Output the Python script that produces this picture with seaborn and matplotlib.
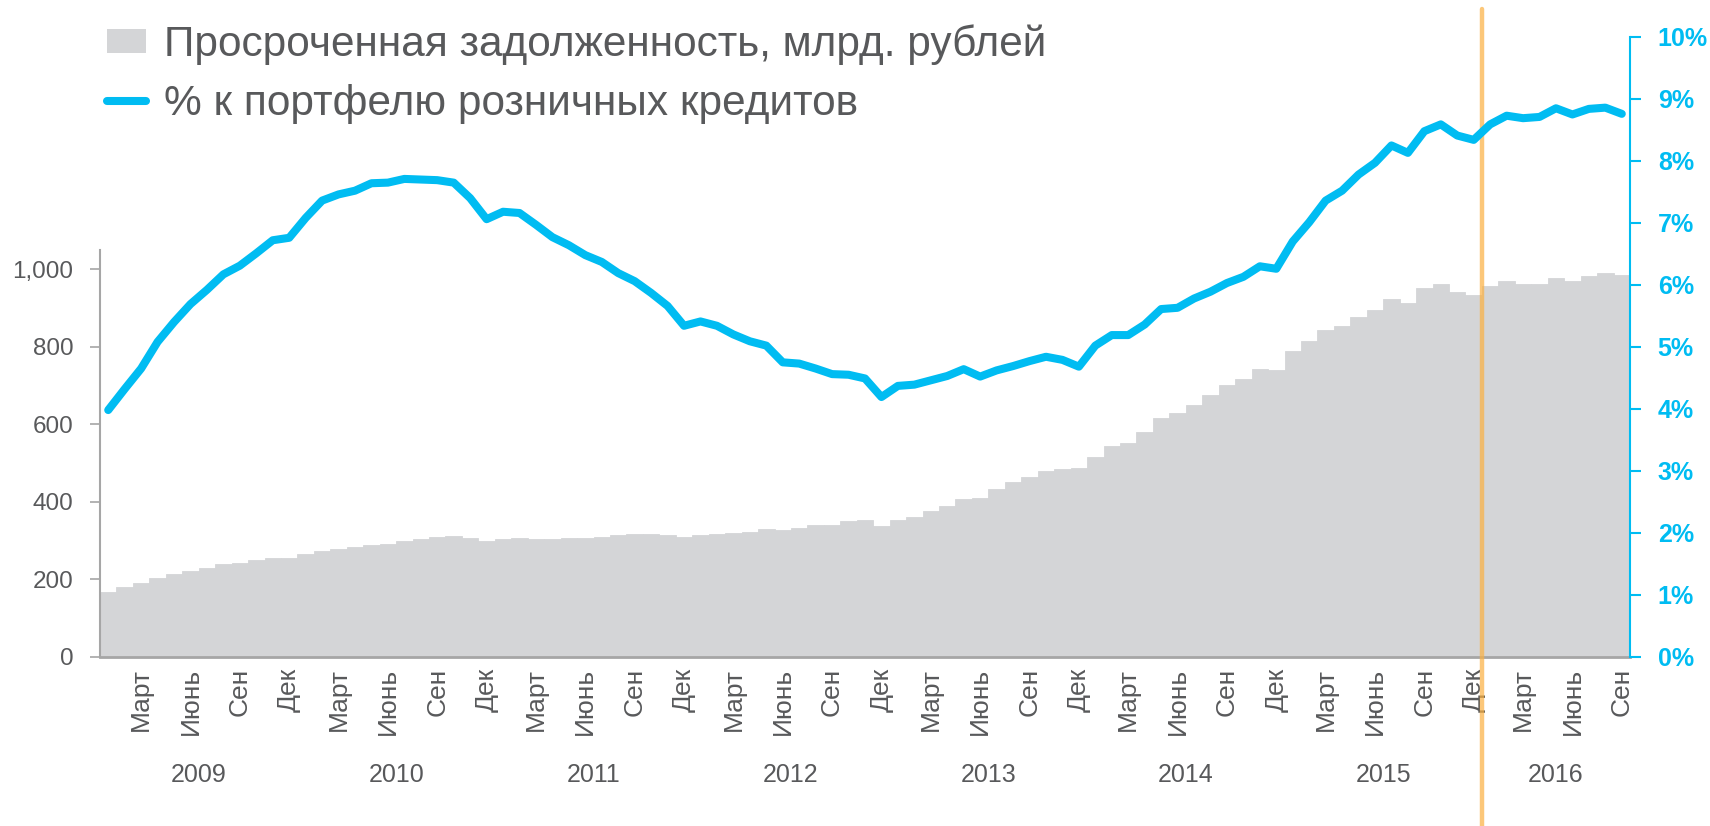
import numpy as np
import pandas as pd
import seaborn as sns
import matplotlib
matplotlib.use("Agg")
import matplotlib.pyplot as plt
import matplotlib.font_manager as fm
import matplotlib.transforms as mtransforms
from matplotlib.patches import Patch
from matplotlib.lines import Line2D
from matplotlib.ticker import FuncFormatter

# monthly data, Jan 2009 .. Sep 2016
overdue = [168, 181, 189, 204, 213, 221, 230, 239, 243, 249, 256, 255,
           265, 273, 278, 282, 288, 292, 299, 304, 308, 312, 306, 298,
           304, 306, 304, 304, 307, 306, 310, 314, 318, 316, 314, 309,
           313, 316, 319, 323, 330, 326, 333, 340, 341, 350, 354, 338,
           354, 361, 375, 390, 408, 409, 432, 450, 464, 479, 485, 486,
           516, 545, 553, 580, 616, 629, 651, 675, 701, 717, 744, 741,
           789, 815, 844, 855, 877, 895, 924, 912, 952, 962, 941, 934,
           956, 970, 961, 961, 978, 969, 984, 991, 985]
share = [3.98, 4.32, 4.65, 5.08, 5.40, 5.69, 5.92, 6.17, 6.31, 6.51, 6.72, 6.76,
         7.08, 7.36, 7.46, 7.52, 7.64, 7.65, 7.71, 7.70, 7.69, 7.65, 7.40, 7.06,
         7.18, 7.16, 6.97, 6.77, 6.64, 6.48, 6.37, 6.19, 6.06, 5.87, 5.66, 5.34,
         5.41, 5.34, 5.20, 5.09, 5.02, 4.75, 4.73, 4.65, 4.56, 4.55, 4.49, 4.19,
         4.37, 4.39, 4.46, 4.53, 4.64, 4.52, 4.62, 4.69, 4.77, 4.84, 4.79, 4.68,
         5.02, 5.19, 5.19, 5.36, 5.61, 5.63, 5.78, 5.89, 6.03, 6.13, 6.30, 6.26,
         6.70, 7.01, 7.36, 7.52, 7.78, 7.97, 8.25, 8.13, 8.48, 8.59, 8.41, 8.34,
         8.59, 8.73, 8.69, 8.71, 8.85, 8.75, 8.84, 8.86, 8.76]
years = ["2009", "2010", "2011", "2012", "2013", "2014", "2015", "2016"]
month_labels = {2: "Март", 5: "Июнь", 8: "Сен", 11: "Дек"}
bar_label = "Просроченная задолженность, млрд. рублей"
line_label = "% к портфелю розничных кредитов"

df = pd.DataFrame({"month": np.arange(len(overdue)), "overdue": overdue, "share": share})
n = len(df)

sns.set_style("white")
try:
    fm.findfont("Liberation Sans Narrow", fallback_to_default=False)
    narrow, leg_size = "Liberation Sans Narrow", 33
except ValueError:
    narrow, leg_size = "Liberation Sans", 30.5
plt.rcParams["font.family"] = ["Liberation Sans", "DejaVu Sans"]

gray_txt = "#58595b"
bar_col = "#d4d5d7"
cyan = "#00bcf2"
axis_col = "#a6a6a6"

fig = plt.figure(figsize=(17.1, 8.26), dpi=100)
ax = fig.add_axes([100 / 1710, 1 - 656.7 / 826, 1530 / 1710, 619.7 / 826])

sns.barplot(data=df, x="month", y="overdue", color=bar_col, saturation=1,
            width=1, edgecolor=bar_col, linewidth=0.6, ax=ax, zorder=1)
ax.set_ylim(0, 1600)
ax.set_xlim(-0.5, n - 0.5)
ax.set_xlabel("")
ax.set_ylabel("")

ax2 = ax.twinx()
sns.lineplot(data=df, x="month", y="share", ax=ax2, color=cyan, lw=5.8,
             solid_capstyle="round", solid_joinstyle="round")
ax2.set_ylim(0, 10)
ax2.set_xlim(-0.5, n - 0.5)
ax2.set_xlabel("")
ax2.set_ylabel("")

# month ticks
pos = [i for i in range(n) if i % 12 in month_labels]
ax.set_xticks(pos)
ax.set_xticklabels([month_labels[i % 12] for i in pos], rotation=90,
                   fontsize=19, color=gray_txt)
ax.tick_params(axis="x", which="major", length=0, pad=8)
bounds = [b - 0.5 for b in range(0, n, 12)] + [n - 0.5]
ax.set_xticks(bounds, minor=True)
ax.tick_params(axis="x", which="minor", length=96, width=1, color=axis_col,
               direction="out")

trans = mtransforms.blended_transform_factory(ax.transData, ax.transAxes)
for k, yr in enumerate(years):
    c = (bounds[k] + bounds[k + 1]) / 2
    ax.text(c, -0.191, yr, transform=trans, ha="center", va="center",
            fontsize=18, color=gray_txt)

ax.set_yticks([0, 200, 400, 600, 800, 1000])
ax.yaxis.set_major_formatter(FuncFormatter(lambda v, p: f"{v:,.0f}"))
ax.tick_params(axis="y", length=7, width=1.2, color=axis_col, labelsize=17.5,
               labelcolor=gray_txt, pad=12, direction="out")
ax.tick_params(axis="y", left=True)

ax2.set_yticks(range(0, 11))
ax2.yaxis.set_major_formatter(FuncFormatter(lambda v, p: f"{v:.0f}%"))
ax2.tick_params(axis="y", length=8, width=1.5, color=cyan, labelsize=18,
                labelcolor=cyan, pad=12, direction="out")
for lbl in ax2.get_yticklabels():
    lbl.set_fontweight("bold")

for s in ["top", "right"]:
    ax.spines[s].set_visible(False)
ax.spines["left"].set_bounds(0, 1050)
ax.spines["left"].set_color(axis_col)
ax.spines["left"].set_linewidth(1.5)
ax.spines["bottom"].set_color(axis_col)
ax.spines["bottom"].set_linewidth(2)
for s in ["top", "left", "bottom"]:
    ax2.spines[s].set_visible(False)
ax2.spines["right"].set_color(cyan)
ax2.spines["right"].set_linewidth(1.5)

# start of 2016 marker
ax.axvline(bounds[7], ymin=-0.273, ymax=1.045, clip_on=False, color="#fbb040",
           alpha=0.7, lw=3.2, zorder=3)

handles = [Patch(facecolor=bar_col, edgecolor="none"),
           Line2D([], [], color=cyan, lw=5.8, solid_capstyle="round")]
fig.legend(handles, [bar_label, line_label], loc="upper left",
           bbox_to_anchor=(107 / 1710, 1 - 24 / 826), frameon=False,
           prop={"family": narrow, "size": leg_size}, labelcolor=gray_txt,
           handlelength=0.92, handleheight=0.5, handletextpad=0.42,
           labelspacing=0.45, borderpad=0, borderaxespad=0)

fig.savefig("out.png", dpi=100)
